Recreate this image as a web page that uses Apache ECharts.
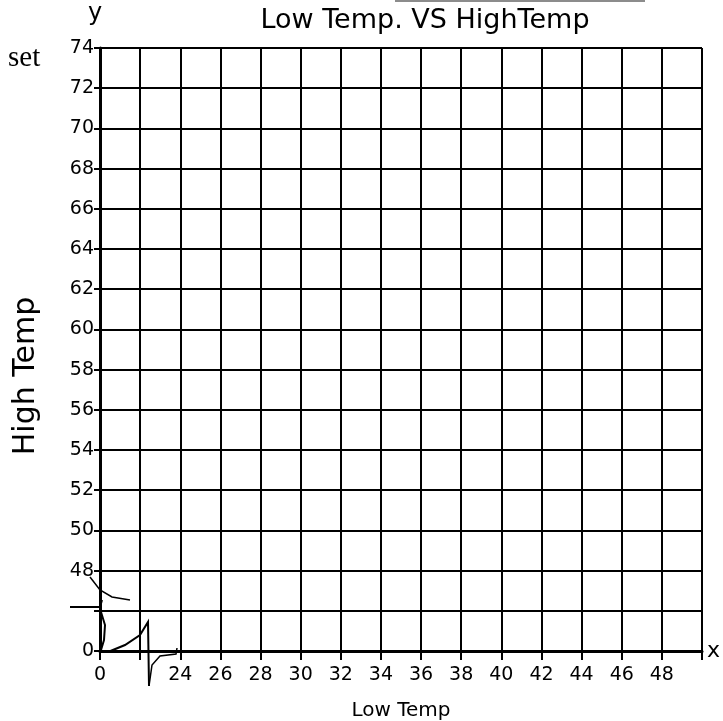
<!DOCTYPE html>
<html>
<head>
<meta charset="utf-8">
<script src="https://cdn.jsdelivr.net/npm/echarts@6/dist/echarts.min.js"></script>
<style>html,body{margin:0;padding:0;background:#fff;}#c{width:723px;height:721px;}</style>
</head>
<body>
<div id="c"></div>
<script>
// Tick labels (grid index -> written label); axes are broken near the origin
const xTickLabels = ['0', '', '24', '26', '28', '30', '32', '34', '36', '38', '40', '42', '44', '46', '48', ''];
const yTickLabels = ['0', '', '48', '50', '52', '54', '56', '58', '60', '62', '64', '66', '68', '70', '72', '74'];
// No points have been plotted on this worksheet graph
const lowTemps = [];
const highTemps = [];

const titleText = 'Low Temp. VS HighTemp';
const xName = 'Low Temp';
const yName = 'High Temp';

const chart = echarts.init(document.getElementById('c'), null, {renderer: 'canvas'});
const points = lowTemps.map((v, i) => [v, highTemps[i]]);
const font = '"DejaVu Sans", sans-serif';

chart.setOption({
  backgroundColor: '#fff',
  animation: false,
  title: {
    text: titleText,
    left: 420, top: 2, textAlign: 'center',
    textStyle: {fontFamily: font, fontSize: 27, fontWeight: 'normal', color: '#000'}
  },
  grid: {left: 100, top: 48, right: 21, bottom: 70, containLabel: false, outerBoundsMode: 'none'},
  xAxis: {
    type: 'value', min: 0, max: xTickLabels.length - 1, interval: 1,
    name: xName, nameLocation: 'middle', nameGap: 50,
    nameTextStyle: {fontFamily: font, fontSize: 20, color: '#000'},
    axisLine: {show: true, lineStyle: {color: '#000', width: 3}},
    axisTick: {show: true, length: 9, lineStyle: {color: '#000', width: 2}},
    splitLine: {show: true, lineStyle: {color: '#000', width: 2}},
    axisLabel: {
      formatter: v => xTickLabels[v] || '',
      fontFamily: font, fontSize: 19, color: '#000', margin: 15
    }
  },
  yAxis: {
    type: 'value', min: 0, max: yTickLabels.length - 1, interval: 1,
    axisLine: {show: true, lineStyle: {color: '#000', width: 3}},
    axisTick: {show: true, length: 6, lineStyle: {color: '#000', width: 2}},
    splitLine: {show: true, lineStyle: {color: '#000', width: 2}},
    axisLabel: {
      formatter: v => yTickLabels[v] || '',
      fontFamily: font, fontSize: 19, color: '#000', margin: 6
    }
  },
  series: [{type: 'scatter', data: points, symbolSize: 6, itemStyle: {color: '#000'}}],
  graphic: [
    {type: 'text', x: 26, y: 376, rotation: Math.PI / 2,
     style: {text: yName, font: '30px "DejaVu Sans", sans-serif', fill: '#000', align: 'center', verticalAlign: 'middle'}},
    {type: 'text', left: 8, top: 44, style: {text: 'set', font: '29px "Liberation Serif", serif', fill: '#000'}},
    {type: 'text', left: 88, top: 2, style: {text: 'y', font: '24px "DejaVu Sans", sans-serif', fill: '#000'}},
    {type: 'text', left: 707, top: 640, style: {text: 'x', font: '22px "DejaVu Sans", sans-serif', fill: '#000'}},
    {type: 'line', shape: {x1: 395, y1: 1, x2: 645, y2: 1}, style: {stroke: '#666', lineWidth: 1.5}},
    // y-axis break mark
    {type: 'polyline', shape: {points: [[70, 607], [100, 607], [102, 600]]}, style: {stroke: '#000', lineWidth: 2, fill: null}},
    {type: 'polyline', shape: {points: [[90, 577], [100, 590], [112, 597], [130, 600]]}, style: {stroke: '#000', lineWidth: 1.5, fill: null}},
    {type: 'polyline', shape: {points: [[101, 612], [105, 625], [104, 640], [101, 650]]}, style: {stroke: '#000', lineWidth: 2, fill: null}},
    // x-axis break mark
    {type: 'polyline', shape: {points: [[108, 652], [125, 645], [140, 635], [148, 622], [149, 686]]}, style: {stroke: '#000', lineWidth: 2, fill: null}},
    {type: 'polyline', shape: {points: [[149, 686], [152, 665], [160, 656], [176, 654], [177, 648]]}, style: {stroke: '#000', lineWidth: 1.5, fill: null}}
  ]
});
</script>
</body>
</html>
